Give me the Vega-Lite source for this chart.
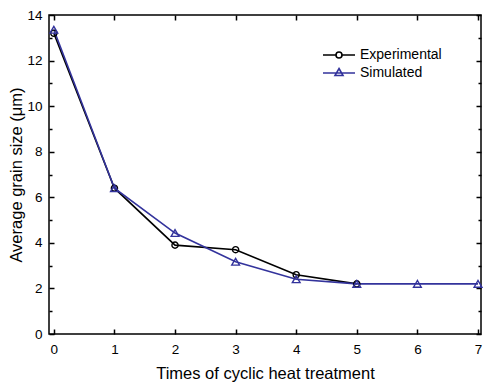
{
  "$schema": "https://vega.github.io/schema/vega-lite/v6.json",
  "width": 432,
  "height": 319,
  "autosize": "none",
  "padding": {"left": 49, "top": 15, "right": 2, "bottom": 49},
  "background": "white",
  "config": {
    "view": {"stroke": "black", "strokeWidth": 1.5},
    "font": "Liberation Sans",
    "axis": {
      "grid": false,
      "domain": false,
      "tickColor": "black",
      "tickWidth": 1.5,
      "labelColor": "black",
      "titleColor": "black",
      "labelFont": "Liberation Sans",
      "titleFont": "Liberation Sans",
      "labelFontSize": 13.5,
      "titleFontSize": 16.5,
      "titleFontWeight": "normal"
    }
  },
  "data": {
    "values": [
      {"t": 0, "size": 13.2, "series": "Experimental"},
      {"t": 1, "size": 6.4, "series": "Experimental"},
      {"t": 2, "size": 3.9, "series": "Experimental"},
      {"t": 3, "size": 3.7, "series": "Experimental"},
      {"t": 4, "size": 2.6, "series": "Experimental"},
      {"t": 5, "size": 2.2, "series": "Experimental"},
      {"t": 0, "size": 13.35, "series": "Simulated"},
      {"t": 1, "size": 6.4, "series": "Simulated"},
      {"t": 2, "size": 4.43, "series": "Simulated"},
      {"t": 3, "size": 3.17, "series": "Simulated"},
      {"t": 4, "size": 2.4, "series": "Simulated"},
      {"t": 5, "size": 2.2, "series": "Simulated"},
      {"t": 6, "size": 2.2, "series": "Simulated"},
      {"t": 7, "size": 2.2, "series": "Simulated"}
    ]
  },
  "resolve": {"axis": {"x": "independent", "y": "independent"}},
  "layer": [
    {
      "mark": {"type": "line", "strokeWidth": 1.6},
      "encoding": {
        "x": {
          "field": "t", "type": "quantitative",
          "scale": {"domain": [-0.08, 7.05], "nice": false, "zero": false},
          "axis": {"orient": "bottom", "values": [0,1,2,3,4,5,6,7], "tickSize": -5, "labelPadding": 13, "title": "Times of cyclic heat treatment", "titlePadding": 10}
        },
        "y": {
          "field": "size", "type": "quantitative",
          "scale": {"domain": [0, 14], "nice": false},
          "axis": {"orient": "left", "values": [0,2,4,6,8,10,12,14], "tickSize": -5, "labelPadding": 12, "title": "Average grain size (μm)", "titlePadding": 2}
        },
        "color": {
          "field": "series", "type": "nominal",
          "scale": {"domain": ["Experimental", "Simulated"], "range": ["#000000", "#33339c"]},
          "legend": {
            "title": null,
            "orient": "none",
            "legendX": 283,
            "legendY": 33,
            "padding": 0,
            "symbolSize": 100,
            "symbolStrokeWidth": 1.6,
            "labelOffset": 14,
            "labelFontSize": 14,
            "labelFont": "Liberation Sans",
            "labelColor": "black",
            "rowPadding": 3,
            "encode": {
              "symbols": {
                "update": {
                  "shape": {"signal": "datum.value == 'Experimental' ? 'M-3.2,0H-0.6M0.6,0H3.2M0.6,0A0.6,0.6 0 1,1 -0.6,0A0.6,0.6 0 1,1 0.6,0' : 'M-3.2,0H3.2M0,-0.9L0.8,0.5L-0.8,0.5Z'"},
                  "fill": {"value": "transparent"}
                }
              }
            }
          }
        }
      }
    },
    {
      "transform": [{"filter": "datum.series == 'Experimental'"}],
      "mark": {"type": "point", "shape": "circle", "size": 38, "filled": false, "strokeWidth": 1.4, "opacity": 1},
      "encoding": {
        "x": {"field": "t", "type": "quantitative", "axis": null},
        "y": {"field": "size", "type": "quantitative", "axis": null},
        "color": {"field": "series", "type": "nominal", "legend": null}
      }
    },
    {
      "transform": [{"filter": "datum.series == 'Simulated'"}],
      "mark": {"type": "point", "shape": "triangle-up", "size": 60, "filled": false, "strokeWidth": 1.4, "opacity": 1},
      "encoding": {
        "x": {"field": "t", "type": "quantitative", "axis": null},
        "y": {"field": "size", "type": "quantitative", "axis": null},
        "color": {"field": "series", "type": "nominal", "legend": null}
      }
    },
    {
      "mark": {"type": "point", "opacity": 0},
      "encoding": {
        "x": {"field": "t", "type": "quantitative", "axis": {"orient": "top", "values": [0,1,2,3,4,5,6,7], "tickSize": -5, "labels": false, "title": null}},
        "y": {"field": "size", "type": "quantitative", "axis": {"orient": "right", "values": [0,2,4,6,8,10,12,14], "tickSize": -5, "labels": false, "title": null}}
      }
    },
    {
      "mark": {"type": "point", "opacity": 0},
      "encoding": {
        "x": {"field": "t", "type": "quantitative", "axis": null},
        "y": {"field": "size", "type": "quantitative", "axis": {"orient": "left", "values": [1,3,5,7,9,11,13], "tickSize": -3, "labels": false, "title": null}}
      }
    },
    {
      "mark": {"type": "point", "opacity": 0},
      "encoding": {
        "x": {"field": "t", "type": "quantitative", "axis": null},
        "y": {"field": "size", "type": "quantitative", "axis": {"orient": "right", "values": [1,3,5,7,9,11,13], "tickSize": -3, "labels": false, "title": null}}
      }
    }
  ]
}
